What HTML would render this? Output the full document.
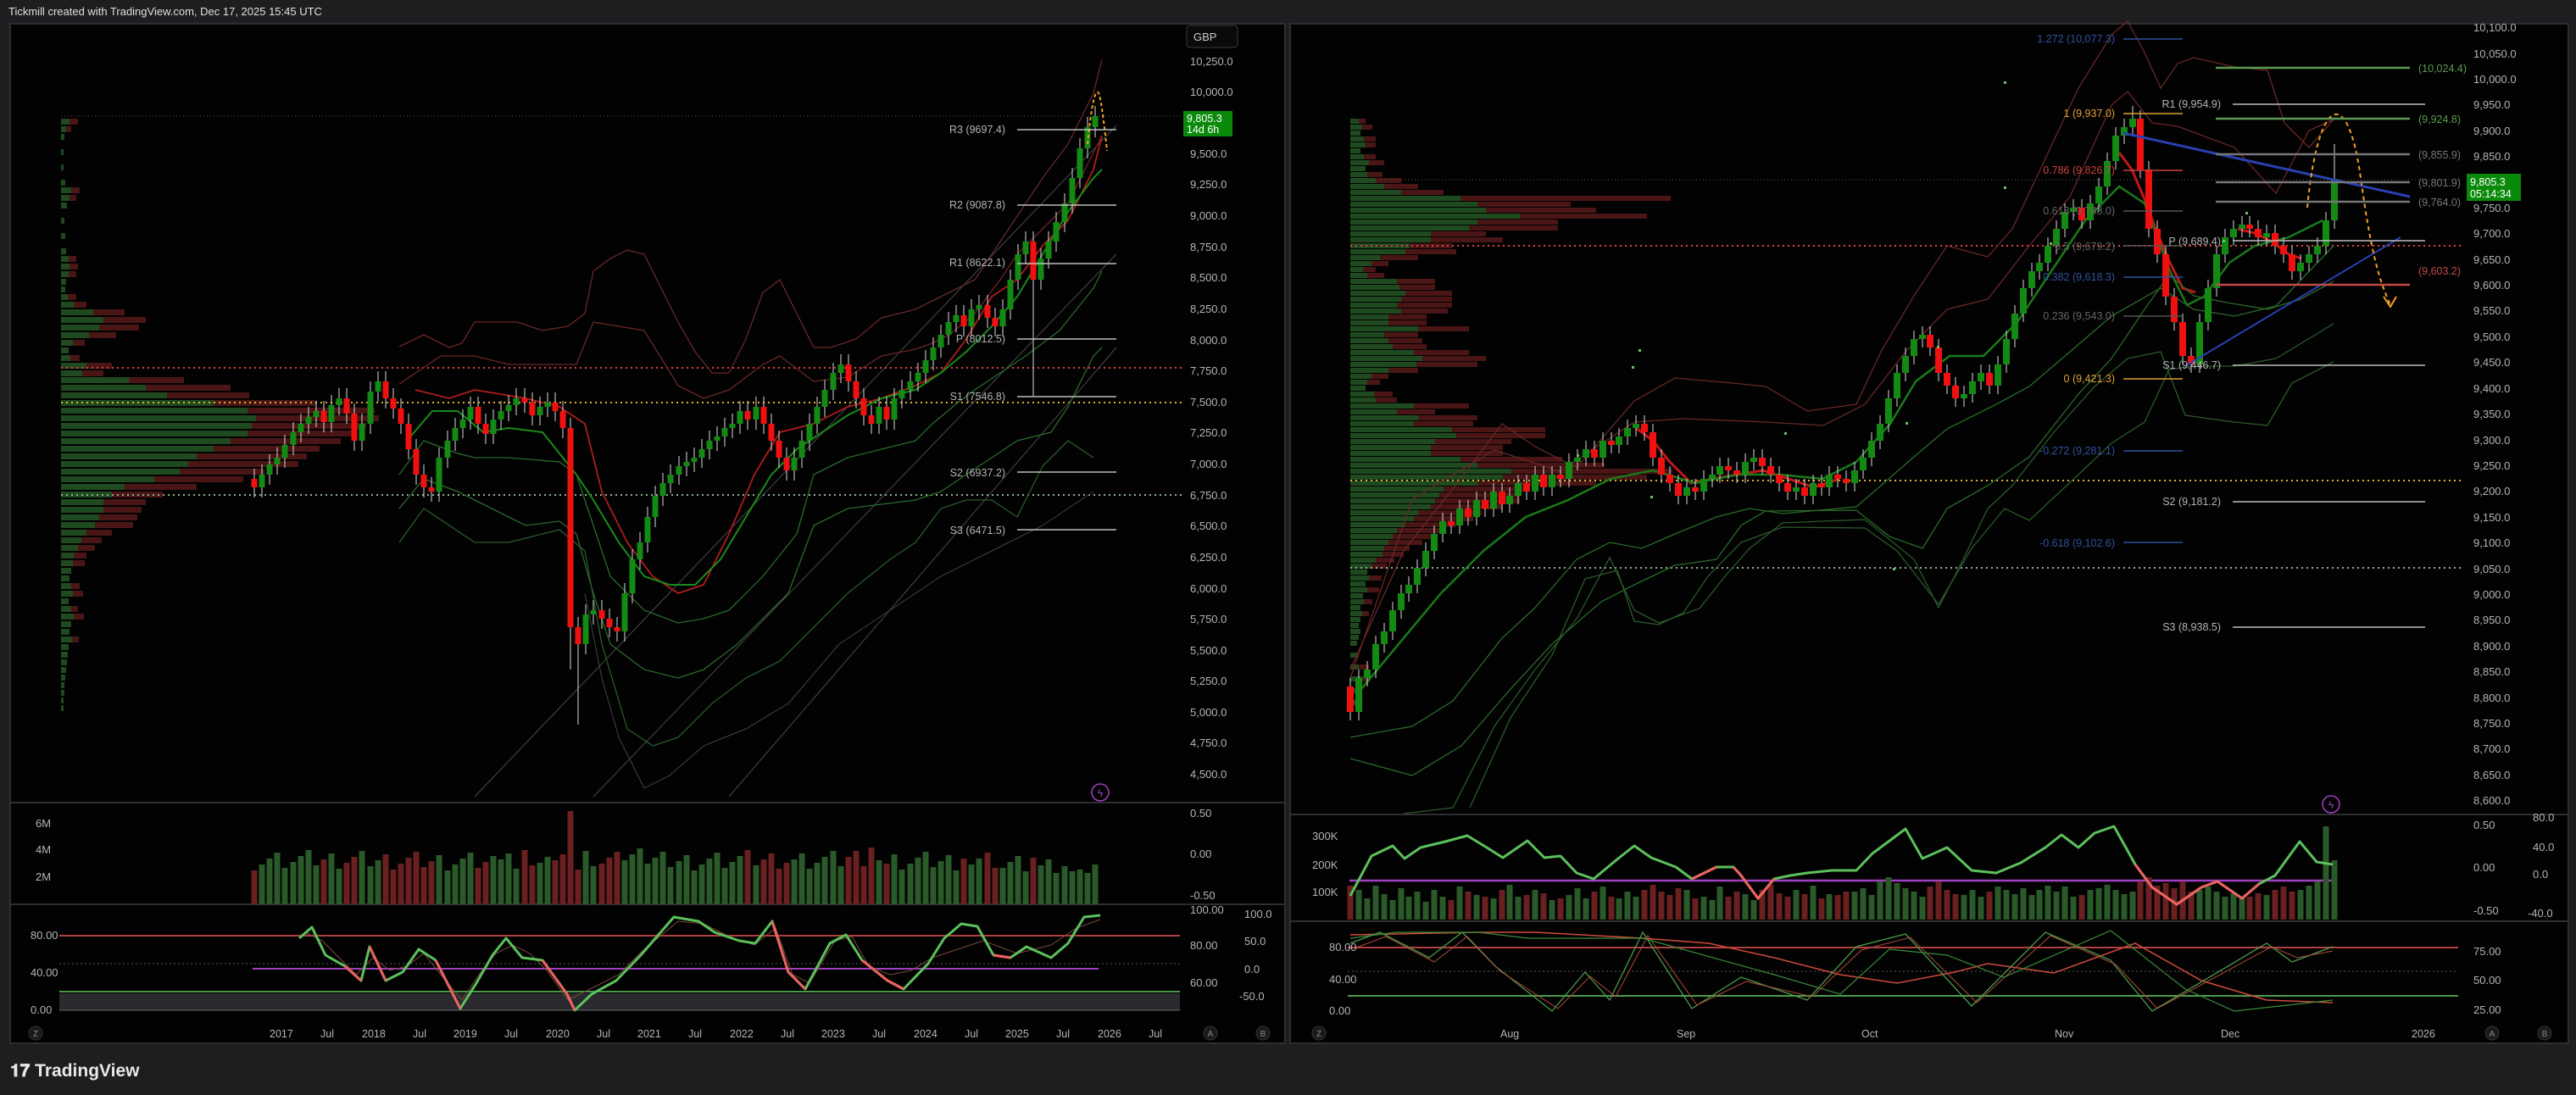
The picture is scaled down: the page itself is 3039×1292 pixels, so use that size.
<!DOCTYPE html>
<html><head><meta charset="utf-8"><style>
html,body{margin:0;padding:0;background:#1e1e21;width:3039px;height:1292px;overflow:hidden}
svg{display:block;font-family:"Liberation Sans",sans-serif}
</style></head><body>
<svg width="3039" height="1292" viewBox="0 0 3039 1292" xmlns="http://www.w3.org/2000/svg">
<rect x="0" y="0" width="3039" height="1292" fill="#1e1e21"/>
<rect x="12" y="28" width="1504" height="1203" fill="#020202" stroke="#2e2e32" stroke-width="2"/>
<rect x="1522" y="28" width="1508" height="1203" fill="#020202" stroke="#2e2e32" stroke-width="2"/>
<line x1="12" y1="947" x2="1516" y2="947" stroke="#2e2e32" stroke-width="2"/>
<line x1="12" y1="1067" x2="1516" y2="1067" stroke="#2e2e32" stroke-width="2"/>
<line x1="1522" y1="961" x2="3030" y2="961" stroke="#2e2e32" stroke-width="2"/>
<line x1="1522" y1="1087" x2="3030" y2="1087" stroke="#2e2e32" stroke-width="2"/>

<!-- ========== LEFT volume profile ========== -->
<g fill="#1f4a1f">
<rect x="72" y="140" width="10" height="7"/><rect x="72" y="149" width="6" height="7"/><rect x="72" y="158" width="4" height="7"/><rect x="72" y="176" width="3" height="7"/><rect x="72" y="194" width="3" height="7"/><rect x="72" y="212" width="5" height="7"/><rect x="72" y="221" width="12" height="7"/><rect x="72" y="230" width="10" height="7"/><rect x="72" y="239" width="7" height="7"/><rect x="72" y="257" width="4" height="7"/><rect x="72" y="275" width="5" height="7"/><rect x="72" y="293" width="6" height="7"/><rect x="72" y="302" width="9" height="7"/><rect x="72" y="311" width="10" height="7"/><rect x="72" y="320" width="9" height="7"/><rect x="72" y="329" width="6" height="7"/><rect x="72" y="338" width="5" height="7"/><rect x="72" y="347" width="8" height="7"/><rect x="72" y="356" width="15" height="7"/><rect x="72" y="365" width="38" height="7"/><rect x="72" y="374" width="50" height="7"/><rect x="72" y="383" width="45" height="7"/><rect x="72" y="392" width="33" height="7"/><rect x="72" y="401" width="14" height="7"/><rect x="72" y="410" width="9" height="7"/><rect x="72" y="419" width="11" height="7"/><rect x="72" y="428" width="30" height="7"/><rect x="72" y="437" width="25" height="7"/><rect x="72" y="445" width="80" height="7"/><rect x="72" y="454" width="100" height="7"/><rect x="72" y="463" width="125" height="7"/><rect x="72" y="472" width="180" height="7"/><rect x="72" y="481" width="220" height="7"/><rect x="72" y="490" width="230" height="7"/><rect x="72" y="499" width="225" height="7"/><rect x="72" y="508" width="220" height="7"/><rect x="72" y="517" width="200" height="7"/><rect x="72" y="526" width="180" height="7"/><rect x="72" y="535" width="160" height="7"/><rect x="72" y="544" width="150" height="7"/><rect x="72" y="553" width="140" height="7"/><rect x="72" y="562" width="110" height="7"/><rect x="72" y="571" width="75" height="7"/><rect x="72" y="580" width="60" height="7"/><rect x="72" y="589" width="50" height="7"/><rect x="72" y="598" width="50" height="7"/><rect x="72" y="607" width="45" height="7"/><rect x="72" y="616" width="40" height="7"/><rect x="72" y="625" width="30" height="7"/><rect x="72" y="634" width="24" height="7"/><rect x="72" y="643" width="20" height="7"/><rect x="72" y="652" width="15" height="7"/><rect x="72" y="661" width="14" height="7"/><rect x="72" y="670" width="12" height="7"/><rect x="72" y="679" width="10" height="7"/><rect x="72" y="688" width="12" height="7"/><rect x="72" y="697" width="14" height="7"/><rect x="72" y="706" width="9" height="7"/><rect x="72" y="715" width="12" height="7"/><rect x="72" y="724" width="15" height="7"/><rect x="72" y="733" width="12" height="7"/><rect x="72" y="742" width="10" height="7"/><rect x="72" y="751" width="13" height="7"/><rect x="72" y="760" width="9" height="7"/><rect x="72" y="769" width="8" height="7"/><rect x="72" y="778" width="7" height="7"/><rect x="72" y="787" width="6" height="7"/><rect x="72" y="796" width="5" height="7"/><rect x="72" y="805" width="4" height="7"/><rect x="72" y="814" width="4" height="7"/><rect x="72" y="823" width="3" height="7"/><rect x="72" y="832" width="3" height="7"/>
</g>
<g fill="#4a1515">
<rect x="82" y="140" width="10" height="7"/><rect x="78" y="149" width="6" height="7"/><rect x="84" y="221" width="10" height="7"/><rect x="82" y="230" width="8" height="7"/><rect x="81" y="302" width="9" height="7"/><rect x="82" y="311" width="10" height="7"/><rect x="81" y="320" width="9" height="7"/><rect x="80" y="347" width="10" height="7"/><rect x="87" y="356" width="15" height="7"/><rect x="110" y="365" width="37" height="7"/><rect x="122" y="374" width="50" height="7"/><rect x="117" y="383" width="47" height="7"/><rect x="105" y="392" width="32" height="7"/><rect x="86" y="401" width="14" height="7"/><rect x="83" y="419" width="11" height="7"/><rect x="102" y="428" width="30" height="7"/><rect x="97" y="437" width="25" height="7"/><rect x="152" y="445" width="65" height="7"/><rect x="172" y="454" width="100" height="7"/><rect x="197" y="463" width="97" height="7"/><rect x="252" y="472" width="120" height="7"/><rect x="292" y="481" width="150" height="7"/><rect x="302" y="490" width="145" height="7"/><rect x="297" y="499" width="135" height="7"/><rect x="292" y="508" width="125" height="7"/><rect x="272" y="517" width="130" height="7"/><rect x="252" y="526" width="125" height="7"/><rect x="232" y="535" width="130" height="7"/><rect x="222" y="544" width="130" height="7"/><rect x="212" y="553" width="100" height="7"/><rect x="182" y="562" width="105" height="7"/><rect x="147" y="571" width="85" height="7"/><rect x="132" y="580" width="60" height="7"/><rect x="122" y="589" width="50" height="7"/><rect x="122" y="598" width="45" height="7"/><rect x="117" y="607" width="45" height="7"/><rect x="112" y="616" width="45" height="7"/><rect x="102" y="625" width="30" height="7"/><rect x="96" y="634" width="24" height="7"/><rect x="92" y="643" width="20" height="7"/><rect x="87" y="652" width="15" height="7"/><rect x="86" y="661" width="14" height="7"/><rect x="84" y="688" width="10" height="7"/><rect x="86" y="697" width="12" height="7"/><rect x="84" y="715" width="8" height="7"/><rect x="87" y="724" width="12" height="7"/><rect x="85" y="751" width="8" height="7"/>
</g>
<!-- left dotted lines -->
<line x1="72" y1="434" x2="1395" y2="434" stroke="#e04040" stroke-width="2" stroke-dasharray="2 4"/>
<line x1="72" y1="475" x2="1395" y2="475" stroke="#e0b030" stroke-width="2" stroke-dasharray="2 4"/>
<line x1="72" y1="584" x2="1395" y2="584" stroke="#90b090" stroke-width="2" stroke-dasharray="2 4"/>
<line x1="72" y1="137" x2="1395" y2="137" stroke="#555" stroke-width="1" stroke-dasharray="1 3"/>
<!-- left trend lines -->
<g stroke="#4a4a4a" stroke-width="1"><line x1="560" y1="940" x2="1317" y2="148"/><line x1="700" y1="940" x2="1317" y2="300"/><line x1="860" y1="940" x2="1317" y2="410"/></g>
<!-- left bands -->
<g fill="none">
<polyline stroke="#6a2626" stroke-width="1.3" points="471,409 500,395 530,410 545,405 560,380 610,380 625,385 640,390 670,385 690,370 700,320 720,305 740,295 760,300 780,340 800,380 820,415 840,440 860,440 880,400 900,345 920,330 940,370 960,410 980,410 1010,400 1040,375 1080,365 1110,350 1130,340 1150,330 1170,300 1200,255 1230,210 1260,170 1290,110 1300,70"/>
<polyline stroke="#6a2626" stroke-width="1.3" points="471,453 520,420 560,420 600,430 680,430 700,380 760,390 800,455 830,470 860,460 900,430 920,420 960,450 1000,445 1040,420 1080,412 1100,405 1120,395 1150,370 1180,330 1200,300 1230,270 1260,240 1290,180 1300,160"/>
<polyline stroke="#b01c1c" stroke-width="1.8" points="490,460 530,470 560,460 620,470 660,480 690,500 710,580 740,640 770,680 800,700 830,690 860,630 890,560 920,510 960,500 1000,480 1040,470 1080,455 1110,440 1140,400 1170,350 1200,330 1230,290 1260,260 1290,200 1300,160"/>
<polyline stroke="#1a8a1a" stroke-width="2" points="480,520 510,485 540,485 570,510 600,505 640,510 680,560 700,590 730,640 760,680 790,690 820,690 850,660 880,610 910,560 940,530 970,510 1000,490 1040,470 1080,460 1110,440 1140,415 1170,385 1200,350 1230,300 1260,250 1290,210 1300,200"/>
<polyline stroke="#2a6a2a" stroke-width="1.3" points="471,560 500,520 540,535 560,540 600,540 660,545 680,560 700,620 720,680 760,720 800,735 830,730 860,720 900,680 940,630 960,560 1000,540 1040,530 1080,520 1100,500 1130,475 1150,460 1180,440 1210,420 1250,390 1290,340 1300,320"/>
<polyline stroke="#2a6a2a" stroke-width="1.3" points="471,600 500,565 540,580 580,600 620,620 660,615 680,630 700,700 720,760 760,790 800,800 830,790 870,760 900,730 930,700 960,620 1000,600 1040,595 1080,590 1110,580 1140,560 1170,540 1200,520 1240,510 1260,480 1290,420 1300,410"/>
<polyline stroke="#2a5a2a" stroke-width="1.3" points="471,640 500,600 560,640 600,640 660,625 690,650 710,760 740,860 770,880 800,870 840,830 880,800 920,780 960,740 1000,700 1050,660 1080,640 1110,600 1140,590 1170,590 1200,610 1230,550 1260,520 1290,540"/>
<polyline stroke="#444" stroke-width="1" points="690,700 710,800 730,870 760,930 790,915 830,880 880,860 930,830 990,760 1050,720 1110,680 1170,650 1230,620 1290,580"/>
</g>
<!-- left wicks -->
<path stroke="#d8d8d8" stroke-width="1" fill="none" d="M300 553V587M309 548V587M318 536V572M327 528V560M336 513V552M346 498V537M355 488V522M364 480V512M373 473V504M382 473V510M391 466V510M400 458V490M409 458V500M418 476V532M427 488V532M437 450V512M446 438V474M455 438V482M464 458V494M473 470V512M482 488V542M491 518V572M500 548V587M509 563V592M518 528V592M528 508V552M537 493V532M546 483V517M555 468V507M564 468V512M573 488V524M582 483V524M591 473V507M600 466V497M609 458V490M619 458V487M628 463V502M637 468V502M646 463V492M655 463V497M664 473V517M673 493V790M682 728V855M691 713V772M700 708V737M710 708V742M719 718V752M728 728V757M737 688V757M746 648V712M755 628V672M764 598V652M773 573V622M782 558V597M791 548V582M801 538V572M810 533V562M819 528V557M828 518V552M837 508V542M846 503V532M855 493V527M864 488V517M873 473V512M882 473V507M892 468V507M901 468V512M910 488V532M919 508V552M928 528V567M937 528V567M946 508V552M955 488V532M964 468V512M973 448V492M983 428V472M992 418V452M1001 418V462M1010 438V482M1019 458V502M1028 478V512M1037 468V512M1046 468V507M1055 458V507M1064 448V482M1074 438V472M1083 428V462M1092 413V452M1101 398V437M1110 383V422M1119 368V407M1128 360V392M1137 360V397M1146 353V397M1155 348V377M1165 348V387M1174 363V397M1183 353V397M1192 318V377M1201 288V342M1210 273V312M1219 273V467M1228 293V342M1237 273V317M1246 250V297M1256 228V274M1265 198V252M1274 163V222M1283 138V187M1292 125V162"/>
<!-- left green bodies -->
<path fill="#138a13" d="M305.5 560h7v15h-7zM314.5 548h7v12h-7zM323.5 540h7v8h-7zM332.5 525h7v15h-7zM342.5 510h7v15h-7zM351.5 500h7v10h-7zM360.5 492h7v8h-7zM369.5 485h7v7h-7zM387.5 478h7v20h-7zM396.5 470h7v8h-7zM423.5 500h7v20h-7zM433.5 462h7v38h-7zM442.5 450h7v12h-7zM514.5 540h7v40h-7zM524.5 520h7v20h-7zM533.5 505h7v15h-7zM542.5 495h7v10h-7zM551.5 480h7v15h-7zM578.5 495h7v17h-7zM587.5 485h7v10h-7zM596.5 478h7v7h-7zM605.5 470h7v8h-7zM633.5 480h7v10h-7zM642.5 475h7v5h-7zM687.5 725h7v35h-7zM696.5 720h7v5h-7zM733.5 700h7v45h-7zM742.5 660h7v40h-7zM751.5 640h7v20h-7zM760.5 610h7v30h-7zM769.5 585h7v25h-7zM778.5 570h7v15h-7zM787.5 560h7v10h-7zM797.5 550h7v10h-7zM806.5 545h7v5h-7zM815.5 540h7v5h-7zM824.5 530h7v10h-7zM833.5 520h7v10h-7zM842.5 515h7v5h-7zM851.5 505h7v10h-7zM860.5 500h7v5h-7zM869.5 485h7v15h-7zM888.5 480h7v15h-7zM933.5 540h7v15h-7zM942.5 520h7v20h-7zM951.5 500h7v20h-7zM960.5 480h7v20h-7zM969.5 460h7v20h-7zM979.5 440h7v20h-7zM988.5 430h7v10h-7zM1033.5 480h7v20h-7zM1051.5 470h7v25h-7zM1060.5 460h7v10h-7zM1070.5 450h7v10h-7zM1079.5 440h7v10h-7zM1088.5 425h7v15h-7zM1097.5 410h7v15h-7zM1106.5 395h7v15h-7zM1115.5 380h7v15h-7zM1124.5 372h7v8h-7zM1142.5 365h7v20h-7zM1151.5 360h7v5h-7zM1179.5 365h7v20h-7zM1188.5 330h7v35h-7zM1197.5 300h7v30h-7zM1206.5 285h7v15h-7zM1224.5 305h7v25h-7zM1233.5 285h7v20h-7zM1242.5 262h7v23h-7zM1252.5 240h7v22h-7zM1261.5 210h7v30h-7zM1270.5 175h7v35h-7zM1279.5 150h7v25h-7zM1288.5 137h7v13h-7z"/>
<path fill="#f01010" d="M296.5 565h7v10h-7zM378.5 485h7v13h-7zM405.5 470h7v18h-7zM414.5 488h7v32h-7zM451.5 450h7v20h-7zM460.5 470h7v12h-7zM469.5 482h7v18h-7zM478.5 500h7v30h-7zM487.5 530h7v30h-7zM496.5 560h7v15h-7zM505.5 575h7v5h-7zM560.5 480h7v20h-7zM569.5 500h7v12h-7zM615.5 470h7v5h-7zM624.5 475h7v15h-7zM651.5 475h7v10h-7zM660.5 485h7v20h-7zM669.5 505h7v235h-7zM678.5 740h7v20h-7zM706.5 720h7v10h-7zM715.5 730h7v10h-7zM724.5 740h7v5h-7zM878.5 485h7v10h-7zM897.5 480h7v20h-7zM906.5 500h7v20h-7zM915.5 520h7v20h-7zM924.5 540h7v15h-7zM997.5 430h7v20h-7zM1006.5 450h7v20h-7zM1015.5 470h7v20h-7zM1024.5 490h7v10h-7zM1042.5 480h7v15h-7zM1133.5 372h7v13h-7zM1161.5 360h7v15h-7zM1170.5 375h7v10h-7zM1215.5 285h7v45h-7z"/>
<path d="M1283 170 C1288 120,1293 100,1297 112 C1301 130,1304 160,1306 178" fill="none" stroke="#f0a020" stroke-width="2" stroke-dasharray="4 3"/>

<!-- left volume -->
<path fill="none" stroke="#2a5a2a" stroke-width="7" d="M309 1067V1020M318 1013V1067M327 1006V1067M336 1024V1067M346 1017V1067M355 1010V1067M364 1003V1067M373 1021V1067M391 1007V1067M400 1025V1067M427 1004V1067M437 1022V1067M446 1015V1067M518 1009V1067M528 1027V1067M537 1020V1067M546 1013V1067M555 1006V1067M582 1010V1067M591 1014V1067M600 1007V1067M609 1025V1067M637 1018V1067M646 1011V1067M691 1004V1067M700 1022V1067M737 1015V1067M746 1008V1067M755 1001V1067M764 1019V1067M773 1012V1067M782 1005V1067M791 1023V1067M801 1016V1067M810 1009V1067M819 1027V1067M828 1020V1067M837 1013V1067M846 1006V1067M855 1024V1067M864 1017V1067M873 1010V1067M892 1021V1067M937 1014V1067M946 1007V1067M955 1025V1067M964 1018V1067M973 1011V1067M983 1004V1067M992 1022V1067M1037 1015V1067M1055 1008V1067M1064 1026V1067M1074 1019V1067M1083 1012V1067M1092 1005V1067M1101 1023V1067M1110 1016V1067M1119 1009V1067M1128 1027V1067M1146 1020V1067M1155 1013V1067M1183 1024V1067M1192 1017V1067M1201 1010V1067M1210 1028V1067M1228 1021V1067M1237 1014V1067M1246 1030V1067M1256 1022V1067M1265 1028V1067M1274 1026V1067M1283 1030V1067M1292 1020V1067"/>
<path fill="none" stroke="#6a2020" stroke-width="7" d="M300 1027V1067M382 1014V1067M409 1018V1067M418 1011V1067M455 1008V1067M464 1026V1067M473 1019V1067M482 1012V1067M491 1005V1067M500 1023V1067M509 1016V1067M564 1024V1067M573 1017V1067M619 1003V1067M628 1021V1067M655 1015V1067M664 1008V1067M673 957V1067M682 1026V1067M710 1019V1067M719 1012V1067M728 1005V1067M882 1003V1067M901 1014V1067M910 1007V1067M919 1025V1067M928 1018V1067M1001 1011V1067M1010 1004V1067M1019 1022V1067M1028 1000V1067M1046 1019V1067M1137 1013V1067M1165 1006V1067M1174 1024V1067M1219 1012V1067"/>

<!-- left osc pane -->
<rect x="70" y="1172" width="1322" height="20" fill="#2a2a2e"/>
<line x1="70" y1="1170" x2="1392" y2="1170" stroke="#4a9a4a" stroke-width="2"/>
<line x1="70" y1="1192" x2="1392" y2="1192" stroke="#666" stroke-width="1"/>
<line x1="70" y1="1104" x2="1392" y2="1104" stroke="#b04040" stroke-width="2"/>
<line x1="70" y1="1137" x2="1392" y2="1137" stroke="#555" stroke-width="1" stroke-dasharray="2 3"/>
<line x1="298" y1="1143" x2="1296" y2="1143" stroke="#a040c0" stroke-width="2"/>
<polyline fill="none" stroke="#7a4a3a" stroke-width="1" points="360,1100 380,1110 400,1130 420,1150 440,1130 460,1145 480,1140 500,1125 520,1150 545,1180 565,1150 585,1125 605,1115 625,1125 645,1145 670,1180 700,1165 730,1150 760,1120 800,1087 830,1090 860,1105 890,1115 915,1095 935,1150 955,1160 985,1110 1005,1105 1025,1140 1050,1150 1075,1145 1100,1130 1130,1120 1160,1110 1200,1125 1240,1115 1270,1095 1298,1085"/>
<polyline fill="none" stroke="#5cc05c" stroke-width="3" stroke-linejoin="round" points="353,1107 368,1094 384,1127 407,1140 426,1157 436,1117 455,1157 475,1147 494,1120 514,1133 543,1190 562,1160 581,1127 597,1107 616,1130 640,1133 669,1173 678,1192 698,1173 727,1157 756,1127 795,1082 824,1087 843,1100 872,1110 891,1113 911,1087 930,1147 950,1167 979,1113 998,1103 1017,1133 1047,1157 1066,1167 1095,1137 1114,1107 1134,1090 1153,1093 1172,1127 1192,1130 1211,1117 1240,1130 1260,1113 1279,1082 1298,1080"/>
<g fill="none" stroke="#f06060" stroke-width="3"><polyline points="407,1140 426,1157"/><polyline points="436,1117 455,1157"/><polyline points="514,1133 543,1190"/><polyline points="640,1133 669,1173 678,1192"/><polyline points="911,1087 930,1147 950,1167"/><polyline points="1017,1133 1047,1157 1066,1167"/><polyline points="1172,1127 1192,1130"/></g>

<!-- ========== RIGHT volume profile ========== -->
<g fill="#1f4a1f">
<rect x="1593" y="140" width="10" height="6"/><rect x="1593" y="147" width="14" height="6"/><rect x="1593" y="154" width="12" height="6"/><rect x="1593" y="161" width="16" height="6"/><rect x="1593" y="168" width="18" height="6"/><rect x="1593" y="175" width="12" height="6"/><rect x="1593" y="182" width="16" height="6"/><rect x="1593" y="189" width="22" height="6"/><rect x="1593" y="196" width="18" height="6"/><rect x="1593" y="203" width="20" height="6"/><rect x="1593" y="210" width="30" height="6"/><rect x="1593" y="217" width="40" height="6"/><rect x="1593" y="224" width="60" height="6"/><rect x="1593" y="231" width="130" height="6"/><rect x="1593" y="238" width="150" height="6"/><rect x="1593" y="245" width="160" height="6"/><rect x="1593" y="252" width="200" height="6"/><rect x="1593" y="259" width="150" height="6"/><rect x="1593" y="266" width="140" height="6"/><rect x="1593" y="273" width="95" height="6"/><rect x="1593" y="280" width="95" height="6"/><rect x="1593" y="287" width="70" height="6"/><rect x="1593" y="294" width="65" height="6"/><rect x="1593" y="301" width="35" height="6"/><rect x="1593" y="308" width="25" height="6"/><rect x="1593" y="315" width="15" height="6"/><rect x="1593" y="322" width="20" height="6"/><rect x="1593" y="329" width="55" height="6"/><rect x="1593" y="336" width="58" height="6"/><rect x="1593" y="343" width="65" height="6"/><rect x="1593" y="350" width="60" height="6"/><rect x="1593" y="357" width="55" height="6"/><rect x="1593" y="364" width="60" height="6"/><rect x="1593" y="371" width="45" height="6"/><rect x="1593" y="378" width="45" height="6"/><rect x="1593" y="385" width="80" height="6"/><rect x="1593" y="392" width="40" height="6"/><rect x="1593" y="399" width="45" height="6"/><rect x="1593" y="406" width="50" height="6"/><rect x="1593" y="413" width="75" height="6"/><rect x="1593" y="420" width="85" height="6"/><rect x="1593" y="427" width="78" height="6"/><rect x="1593" y="434" width="45" height="6"/><rect x="1593" y="441" width="25" height="6"/><rect x="1593" y="448" width="20" height="6"/><rect x="1593" y="455" width="18" height="6"/><rect x="1593" y="462" width="28" height="6"/><rect x="1593" y="469" width="30" height="6"/><rect x="1593" y="476" width="75" height="6"/><rect x="1593" y="483" width="55" height="6"/><rect x="1593" y="490" width="80" height="6"/><rect x="1593" y="497" width="75" height="6"/><rect x="1593" y="504" width="120" height="6"/><rect x="1593" y="511" width="125" height="6"/><rect x="1593" y="518" width="100" height="6"/><rect x="1593" y="525" width="95" height="6"/><rect x="1593" y="532" width="95" height="6"/><rect x="1593" y="539" width="130" height="6"/><rect x="1593" y="546" width="150" height="6"/><rect x="1593" y="553" width="190" height="6"/><rect x="1593" y="560" width="180" height="6"/><rect x="1593" y="567" width="150" height="6"/><rect x="1593" y="574" width="110" height="6"/><rect x="1593" y="581" width="105" height="6"/><rect x="1593" y="588" width="100" height="6"/><rect x="1593" y="595" width="95" height="6"/><rect x="1593" y="602" width="80" height="6"/><rect x="1593" y="609" width="75" height="6"/><rect x="1593" y="616" width="65" height="6"/><rect x="1593" y="623" width="55" height="6"/><rect x="1593" y="630" width="50" height="6"/><rect x="1593" y="637" width="45" height="6"/><rect x="1593" y="644" width="40" height="6"/><rect x="1593" y="651" width="38" height="6"/><rect x="1593" y="658" width="30" height="6"/><rect x="1593" y="665" width="25" height="6"/><rect x="1593" y="672" width="20" height="6"/><rect x="1593" y="679" width="22" height="6"/><rect x="1593" y="686" width="18" height="6"/><rect x="1593" y="693" width="20" height="6"/><rect x="1593" y="700" width="15" height="6"/><rect x="1593" y="707" width="16" height="6"/><rect x="1593" y="714" width="12" height="6"/><rect x="1593" y="721" width="14" height="6"/><rect x="1593" y="728" width="12" height="6"/><rect x="1593" y="735" width="10" height="6"/><rect x="1593" y="742" width="12" height="6"/><rect x="1593" y="749" width="10" height="6"/><rect x="1593" y="756" width="8" height="6"/><rect x="1593" y="770" width="10" height="6"/><rect x="1593" y="784" width="12" height="6"/><rect x="1593" y="798" width="14" height="6"/><rect x="1593" y="812" width="10" height="6"/><rect x="1593" y="826" width="8" height="6"/>
</g>
<g fill="#4a1515">
<rect x="1603" y="140" width="8" height="6"/><rect x="1607" y="147" width="12" height="6"/><rect x="1609" y="161" width="14" height="6"/><rect x="1611" y="168" width="12" height="6"/><rect x="1609" y="182" width="14" height="6"/><rect x="1615" y="189" width="18" height="6"/><rect x="1613" y="203" width="18" height="6"/><rect x="1623" y="210" width="30" height="6"/><rect x="1633" y="217" width="40" height="6"/><rect x="1653" y="224" width="50" height="6"/><rect x="1723" y="231" width="248" height="6"/><rect x="1743" y="238" width="110" height="6"/><rect x="1753" y="245" width="130" height="6"/><rect x="1793" y="252" width="150" height="6"/><rect x="1743" y="259" width="95" height="6"/><rect x="1733" y="266" width="105" height="6"/><rect x="1688" y="273" width="65" height="6"/><rect x="1688" y="280" width="85" height="6"/><rect x="1663" y="287" width="50" height="6"/><rect x="1658" y="294" width="60" height="6"/><rect x="1628" y="301" width="45" height="6"/><rect x="1618" y="308" width="20" height="6"/><rect x="1608" y="315" width="15" height="6"/><rect x="1613" y="322" width="20" height="6"/><rect x="1648" y="329" width="45" height="6"/><rect x="1651" y="336" width="42" height="6"/><rect x="1658" y="343" width="55" height="6"/><rect x="1653" y="350" width="60" height="6"/><rect x="1648" y="357" width="65" height="6"/><rect x="1653" y="364" width="55" height="6"/><rect x="1638" y="371" width="45" height="6"/><rect x="1638" y="378" width="45" height="6"/><rect x="1673" y="385" width="60" height="6"/><rect x="1633" y="392" width="40" height="6"/><rect x="1638" y="399" width="40" height="6"/><rect x="1643" y="406" width="40" height="6"/><rect x="1668" y="413" width="65" height="6"/><rect x="1678" y="420" width="75" height="6"/><rect x="1671" y="427" width="72" height="6"/><rect x="1638" y="434" width="35" height="6"/><rect x="1618" y="441" width="20" height="6"/><rect x="1613" y="448" width="15" height="6"/><rect x="1621" y="462" width="22" height="6"/><rect x="1623" y="469" width="25" height="6"/><rect x="1668" y="476" width="65" height="6"/><rect x="1648" y="483" width="45" height="6"/><rect x="1673" y="490" width="70" height="6"/><rect x="1668" y="497" width="70" height="6"/><rect x="1713" y="504" width="110" height="6"/><rect x="1718" y="511" width="105" height="6"/><rect x="1693" y="518" width="90" height="6"/><rect x="1688" y="525" width="85" height="6"/><rect x="1688" y="532" width="85" height="6"/><rect x="1723" y="539" width="120" height="6"/><rect x="1743" y="546" width="150" height="6"/><rect x="1783" y="553" width="190" height="6"/><rect x="1773" y="560" width="170" height="6"/><rect x="1743" y="567" width="140" height="6"/><rect x="1703" y="574" width="100" height="6"/><rect x="1698" y="581" width="95" height="6"/><rect x="1693" y="588" width="100" height="6"/><rect x="1688" y="595" width="85" height="6"/><rect x="1673" y="602" width="75" height="6"/><rect x="1668" y="609" width="70" height="6"/><rect x="1658" y="616" width="60" height="6"/><rect x="1648" y="623" width="55" height="6"/><rect x="1643" y="630" width="45" height="6"/><rect x="1638" y="637" width="40" height="6"/><rect x="1633" y="644" width="30" height="6"/><rect x="1631" y="651" width="25" height="6"/><rect x="1623" y="658" width="22" height="6"/><rect x="1618" y="665" width="18" height="6"/><rect x="1615" y="679" width="15" height="6"/><rect x="1613" y="693" width="14" height="6"/><rect x="1609" y="707" width="10" height="6"/><rect x="1607" y="721" width="8" height="6"/><rect x="1603" y="784" width="12" height="6"/><rect x="1607" y="798" width="10" height="6"/>
</g>
<!-- right dotted lines -->
<line x1="1593" y1="290" x2="2905" y2="290" stroke="#e04040" stroke-width="2" stroke-dasharray="2 4"/>
<line x1="1593" y1="567" x2="2905" y2="567" stroke="#e0b030" stroke-width="2" stroke-dasharray="2 4"/>
<line x1="1593" y1="670" x2="2905" y2="670" stroke="#90b090" stroke-width="2" stroke-dasharray="2 4"/>
<line x1="1593" y1="212" x2="2905" y2="212" stroke="#555" stroke-width="1" stroke-dasharray="1 3"/>
<!-- right bands -->
<g fill="none">
<polyline stroke="#6a2626" stroke-width="1.3" points="1593,790 1656,650 1724,564 1772,500 1811,527 1860,552 1928,473 1976,446 2044,452 2083,456 2132,485 2190,477 2219,415 2258,349 2297,290 2345,303 2374,270 2413,187 2452,104 2491,41 2510,25 2530,62 2549,104 2569,75 2588,68 2636,79 2675,83 2695,145 2724,174 2753,141"/>
<polyline stroke="#6a2626" stroke-width="1.3" points="1593,800 1666,589 1763,531 1840,556 1928,498 1986,494 2083,498 2151,502 2200,477 2248,415 2297,365 2345,353 2394,290 2442,232 2491,124 2510,108 2539,145 2569,149 2636,174 2685,228 2724,154 2753,141"/>
<polyline stroke="#c01818" stroke-width="3" points="1930,505 1950,520 1970,545 1995,570 2020,565 2050,560 2080,555 2110,565 2140,575 2170,565"/>
<polyline stroke="#c01818" stroke-width="3" points="2500,180 2515,200 2530,235 2545,275 2560,310 2575,340 2590,345"/>
<polyline stroke="#c01818" stroke-width="3" points="2640,270 2660,275 2680,285 2700,300 2715,305"/>
<polyline stroke="#1a7a1a" stroke-width="2.5" points="1600,820 1650,760 1700,700 1750,650 1800,610 1850,590 1900,565 1950,555 2000,570 2050,560 2100,560 2150,565 2190,545 2230,500 2260,450 2300,420 2340,420 2380,380 2420,320 2460,260 2500,220 2530,240 2560,320 2580,360 2600,350 2630,310 2660,290 2700,280 2740,260"/>
<polyline stroke="#2a6a2a" stroke-width="1.3" points="1593,895 1666,915 1724,880 1782,813 1831,760 1889,710 1928,690 1976,667 2025,660 2054,620 2083,603 2190,602 2229,633 2268,647 2297,600 2345,573 2394,539 2452,465 2491,423 2530,365 2559,324 2588,349 2627,357 2675,365 2714,353 2753,332"/>
<polyline stroke="#2a6a2a" stroke-width="1.3" points="1593,870 1666,857 1714,827 1772,753 1811,717 1860,660 1899,640 1937,647 1976,630 2025,610 2064,600 2103,606 2190,598 2219,573 2258,539 2297,506 2355,477 2394,456 2442,415 2491,373 2549,340 2588,365 2636,373 2685,361 2753,290"/>
<polyline stroke="#2a5a2a" stroke-width="1.3" points="1656,960 1714,953 1763,857 1811,790 1860,730 1899,658 1928,720 1957,735 2005,718 2035,680 2064,647 2103,617 2200,613 2258,660 2287,717 2316,660 2345,600 2374,573 2423,510 2471,456 2510,423 2549,415 2578,490 2636,498 2675,502 2704,452 2753,427"/>
<polyline stroke="#2a5a2a" stroke-width="1.3" points="1734,953 1782,847 1831,773 1870,683 1908,673 1928,733 1957,737 1986,723 2015,680 2054,640 2103,622 2200,623 2238,650 2287,713 2326,647 2365,600 2394,614 2452,560 2491,523 2530,498 2559,436 2588,432 2636,432 2685,423 2753,382"/>
</g>
<!-- right wicks -->
<path stroke="#d8d8d8" stroke-width="1" fill="none" d="M1593 800V850M1603 790V850M1613 780V810M1623 750V800M1633 735V770M1643 710V755M1653 690V730M1662 680V710M1672 660V700M1682 640V680M1692 620V660M1702 605V640M1712 605V630M1722 590V630M1732 590V620M1742 580V620M1752 580V610M1762 570V610M1772 570V605M1781 575V605M1791 560V595M1801 560V590M1811 550V590M1821 550V585M1831 550V585M1841 550V575M1851 535V575M1861 530V555M1871 520V550M1881 520V550M1891 510V550M1901 510V535M1910 505V535M1920 495V525M1930 490V515M1940 490V520M1950 500V550M1960 530V570M1970 550V580M1980 560V595M1990 565V595M2000 565V590M2010 555V590M2020 550V575M2029 540V570M2039 540V565M2049 545V570M2059 535V570M2069 530V555M2079 530V560M2089 540V570M2099 550V580M2109 560V590M2119 565V590M2129 565V595M2139 560V595M2149 560V585M2158 550V585M2168 550V575M2178 555V580M2188 545V580M2198 530V565M2208 510V550M2218 490V530M2228 460V510M2238 430V480M2248 410V450M2258 390V430M2268 385V410M2277 385V420M2287 400V450M2297 430V465M2307 445V480M2317 455V480M2327 440V475M2337 430V460M2347 430V465M2357 420V465M2367 390V440M2377 360V410M2387 330V380M2397 310V350M2406 300V330M2416 280V320M2426 260V300M2436 240V280M2446 235V260M2456 235V270M2466 230V270M2476 210V250M2486 180V230M2496 150V200M2506 140V170M2516 125V160M2525 130V210M2535 190V280M2545 260V310M2555 290V360M2565 340V390M2575 370V430M2585 410V440M2595 370V440M2605 330V390M2615 290V350M2625 270V310M2635 260V290M2645 255V280M2654 255V280M2664 260V290M2674 265V290M2684 265V300M2694 280V310M2704 290V330M2714 300V330M2724 290V320M2734 280V310M2744 250V300M2754 170V270"/>
<path fill="#138a13" d="M1599 800h8v40h-8zM1609 790h8v10h-8zM1619 760h8v30h-8zM1629 745h8v15h-8zM1639 720h8v25h-8zM1649 700h8v20h-8zM1658 690h8v10h-8zM1668 670h8v20h-8zM1678 650h8v20h-8zM1688 630h8v20h-8zM1698 615h8v15h-8zM1718 600h8v20h-8zM1738 590h8v20h-8zM1758 580h8v20h-8zM1777 585h8v10h-8zM1787 570h8v15h-8zM1807 560h8v20h-8zM1827 560h8v15h-8zM1847 545h8v20h-8zM1857 540h8v5h-8zM1867 530h8v10h-8zM1887 520h8v20h-8zM1906 515h8v10h-8zM1916 505h8v10h-8zM1926 500h8v5h-8zM1986 575h8v10h-8zM2006 565h8v15h-8zM2016 560h8v5h-8zM2025 550h8v10h-8zM2055 545h8v15h-8zM2065 540h8v5h-8zM2115 575h8v5h-8zM2135 570h8v15h-8zM2154 560h8v15h-8zM2184 555h8v15h-8zM2194 540h8v15h-8zM2204 520h8v20h-8zM2214 500h8v20h-8zM2224 470h8v30h-8zM2234 440h8v30h-8zM2244 420h8v20h-8zM2254 400h8v20h-8zM2264 395h8v5h-8zM2313 465h8v5h-8zM2323 450h8v15h-8zM2333 440h8v10h-8zM2353 430h8v25h-8zM2363 400h8v30h-8zM2373 370h8v30h-8zM2383 340h8v30h-8zM2393 320h8v20h-8zM2402 310h8v10h-8zM2412 290h8v20h-8zM2422 270h8v20h-8zM2432 250h8v20h-8zM2442 245h8v5h-8zM2462 240h8v20h-8zM2472 220h8v20h-8zM2482 190h8v30h-8zM2492 160h8v30h-8zM2502 150h8v10h-8zM2512 140h8v10h-8zM2591 380h8v50h-8zM2601 340h8v40h-8zM2611 300h8v40h-8zM2621 280h8v20h-8zM2631 270h8v10h-8zM2641 265h8v5h-8zM2670 275h8v5h-8zM2710 310h8v10h-8zM2720 300h8v10h-8zM2730 290h8v10h-8zM2740 260h8v30h-8zM2750 211h8v49h-8z"/>
<path fill="#f01010" d="M1589 810h8v30h-8zM1708 615h8v5h-8zM1728 600h8v10h-8zM1748 590h8v10h-8zM1768 580h8v15h-8zM1797 570h8v10h-8zM1817 560h8v15h-8zM1837 560h8v5h-8zM1877 530h8v10h-8zM1897 520h8v5h-8zM1936 500h8v10h-8zM1946 510h8v30h-8zM1956 540h8v20h-8zM1966 560h8v10h-8zM1976 570h8v15h-8zM1996 575h8v5h-8zM2035 550h8v5h-8zM2045 555h8v5h-8zM2075 540h8v10h-8zM2085 550h8v10h-8zM2095 560h8v10h-8zM2105 570h8v10h-8zM2125 575h8v10h-8zM2145 570h8v5h-8zM2164 560h8v5h-8zM2174 565h8v5h-8zM2273 395h8v15h-8zM2283 410h8v30h-8zM2293 440h8v15h-8zM2303 455h8v15h-8zM2343 440h8v15h-8zM2452 245h8v15h-8zM2521 140h8v60h-8zM2531 200h8v70h-8zM2541 270h8v30h-8zM2551 300h8v50h-8zM2561 350h8v30h-8zM2571 380h8v40h-8zM2581 420h8v10h-8zM2650 265h8v5h-8zM2660 270h8v10h-8zM2680 275h8v15h-8zM2690 290h8v10h-8zM2700 300h8v20h-8z"/>
<!-- right trend lines & arcs -->
<line x1="2505" y1="157" x2="2843" y2="232" stroke="#2a40b0" stroke-width="3"/>
<line x1="2578" y1="432" x2="2832" y2="280" stroke="#2a40b0" stroke-width="2"/>
<path d="M2722 245 C2735 110,2770 100,2785 210 S2812 340,2820 360" fill="none" stroke="#f0a020" stroke-width="2" stroke-dasharray="5 4"/>
<path d="M2812 350 L2820 362 L2827 350" fill="none" stroke="#f0a020" stroke-width="2"/>
<g fill="#6cbf6c"><rect x="2364" y="96" width="3" height="3"/><rect x="2364" y="220" width="3" height="3"/><rect x="2418" y="286" width="3" height="3"/><rect x="2285" y="408" width="3" height="3"/><rect x="2248" y="498" width="3" height="3"/><rect x="2105" y="510" width="3" height="3"/><rect x="1947" y="585" width="3" height="3"/><rect x="1933" y="412" width="3" height="3"/><rect x="1925" y="432" width="3" height="3"/><rect x="1860" y="536" width="3" height="3"/><rect x="2649" y="250" width="3" height="3"/><rect x="2622" y="283" width="3" height="3"/><rect x="2233" y="670" width="3" height="3"/></g>

<!-- right volume / rsi pane -->
<line x1="1592" y1="1039" x2="2752" y2="1039" stroke="#a040c0" stroke-width="2.5"/>
<path fill="none" stroke="#2a5a2a" stroke-width="7" d="M1603 1085V1050M1613 1060V1085M1623 1045V1085M1633 1055V1085M1643 1062V1085M1653 1048V1085M1662 1058V1085M1672 1052V1085M1682 1064V1085M1692 1050V1085M1702 1058V1085M1722 1046V1085M1742 1056V1085M1762 1060V1085M1781 1044V1085M1791 1058V1085M1811 1050V1085M1831 1062V1085M1851 1056V1085M1861 1048V1085M1871 1060V1085M1891 1046V1085M1910 1060V1085M1920 1052V1085M1930 1058V1085M1990 1050V1085M2010 1058V1085M2020 1062V1085M2029 1046V1085M2059 1055V1085M2069 1062V1085M2119 1050V1085M2139 1045V1085M2158 1055V1085M2188 1052V1085M2198 1048V1085M2208 1056V1085M2218 1040V1085M2228 1035V1085M2238 1042V1085M2248 1048V1085M2258 1052V1085M2268 1058V1085M2317 1056V1085M2327 1050V1085M2337 1058V1085M2357 1046V1085M2367 1050V1085M2377 1055V1085M2387 1048V1085M2397 1056V1085M2406 1050V1085M2416 1045V1085M2426 1052V1085M2436 1046V1085M2446 1058V1085M2466 1050V1085M2476 1048V1085M2486 1044V1085M2496 1050V1085M2506 1055V1085M2516 1052V1085M2595 1050V1085M2605 1046V1085M2615 1052V1085M2625 1058V1085M2635 1054V1085M2645 1060V1085M2674 1056V1085M2714 1050V1085M2724 1045V1085M2734 1040V1085M2744 975V1085M2754 1015V1085"/>
<path fill="none" stroke="#6a2020" stroke-width="7" d="M1593 1085V1045M1712 1062V1085M1732 1052V1085M1752 1058V1085M1772 1050V1085M1801 1056V1085M1821 1054V1085M1841 1060V1085M1881 1052V1085M1901 1058V1085M1940 1050V1085M1950 1044V1085M1960 1052V1085M1970 1056V1085M1980 1048V1085M2000 1060V1085M2039 1058V1085M2049 1052V1085M2079 1050V1085M2089 1044V1085M2099 1054V1085M2109 1058V1085M2129 1055V1085M2149 1060V1085M2168 1056V1085M2178 1052V1085M2277 1046V1085M2287 1040V1085M2297 1050V1085M2307 1055V1085M2347 1052V1085M2456 1056V1085M2525 1040V1085M2535 1035V1085M2545 1045V1085M2555 1042V1085M2565 1048V1085M2575 1040V1085M2585 1052V1085M2654 1058V1085M2664 1054V1085M2684 1050V1085M2694 1046V1085M2704 1052V1085"/>
<polyline fill="none" stroke="#5cc05c" stroke-width="3" stroke-linejoin="round" points="1593,1057 1618,1010 1643,998 1657,1013 1676,1000 1705,993 1731,986 1754,1000 1773,1012 1802,992 1822,1012 1841,1010 1860,1030 1880,1037 1909,1013 1928,998 1948,1012 1977,1023 1996,1037 2025,1023 2045,1023 2054,1033 2074,1060 2093,1037 2112,1033 2132,1030 2161,1027 2190,1027 2209,1007 2248,978 2268,1013 2297,1000 2326,1027 2355,1030 2384,1018 2413,1000 2432,985 2452,1000 2471,983 2494,975 2519,1020 2539,1047 2568,1067 2597,1047 2616,1040 2645,1060 2665,1043 2684,1033 2713,993 2733,1017 2752,1020"/>
<g fill="none" stroke="#f06060" stroke-width="3"><polyline points="1996,1037 2025,1023"/><polyline points="2045,1023 2054,1033 2074,1060 2093,1037"/><polyline points="2519,1020 2539,1047 2568,1067 2597,1047 2616,1040 2645,1060 2665,1043"/></g>
<!-- right osc -->
<line x1="1590" y1="1118" x2="2900" y2="1118" stroke="#b04040" stroke-width="2"/>
<line x1="1590" y1="1146" x2="2900" y2="1146" stroke="#555" stroke-width="1" stroke-dasharray="2 3"/>
<line x1="1590" y1="1175" x2="2900" y2="1175" stroke="#4a9a4a" stroke-width="2"/>
<polyline fill="none" stroke="#d04a3a" stroke-width="1.5" points="1593,1103 1744,1100 1812,1100 1938,1107 2016,1113 2093,1130 2171,1150 2238,1160 2306,1147 2345,1137 2423,1148 2519,1113 2597,1157 2674,1180 2752,1183"/>
<polyline fill="none" stroke="#4a9a4a" stroke-width="1.3" points="1593,1113 1628,1100 1686,1130 1725,1100 1764,1140 1831,1193 1870,1147 1899,1180 1938,1100 1996,1190 2054,1153 2132,1180 2190,1117 2248,1102 2326,1187 2413,1100 2490,1133 2539,1193 2674,1113 2704,1135 2752,1117"/>
<polyline fill="none" stroke="#b04a3a" stroke-width="1" points="1600,1118 1635,1105 1692,1135 1731,1105 1770,1146 1838,1190 1876,1152 1906,1176 1944,1104 2002,1186 2060,1158 2138,1176 2196,1121 2254,1106 2332,1183 2419,1104 2496,1138 2545,1190 2680,1117 2710,1130 2752,1122"/>
<polyline fill="none" stroke="#3a8a3a" stroke-width="1.2" points="1593,1107 1647,1100 1744,1100 1802,1107 1938,1107 2093,1150 2171,1173 2229,1120 2297,1127 2364,1153 2490,1098 2578,1167 2636,1193 2752,1180"/>

<!-- ========== TEXT ========== -->
<text x="10" y="18" font-size="13" fill="#e0e0e0">Tickmill created with TradingView.com, Dec 17, 2025 15:45 UTC</text>
<text x="12" y="1270" font-size="21" font-weight="bold" fill="#e8e8e8">𝟏𝟕 TradingView</text>
<rect x="1400" y="30" width="60" height="26" rx="4" fill="#0a0a0a" stroke="#3a3a3e"/>
<text x="1408" y="48" font-size="13" fill="#ccc">GBP</text>
<g font-size="13" fill="#b4b4b4">
<text x="1404" y="77">10,250.0</text><text x="1404" y="113">10,000.0</text>
<text x="1404" y="186">9,500.0</text><text x="1404" y="222">9,250.0</text><text x="1404" y="259">9,000.0</text><text x="1404" y="296">8,750.0</text><text x="1404" y="332">8,500.0</text><text x="1404" y="369">8,250.0</text><text x="1404" y="406">8,000.0</text><text x="1404" y="442">7,750.0</text><text x="1404" y="479">7,500.0</text><text x="1404" y="515">7,250.0</text><text x="1404" y="552">7,000.0</text><text x="1404" y="589">6,750.0</text><text x="1404" y="625">6,500.0</text><text x="1404" y="662">6,250.0</text><text x="1404" y="699">6,000.0</text><text x="1404" y="735">5,750.0</text><text x="1404" y="772">5,500.0</text><text x="1404" y="808">5,250.0</text><text x="1404" y="845">5,000.0</text><text x="1404" y="881">4,750.0</text><text x="1404" y="918">4,500.0</text>
<text x="1404" y="964">0.50</text><text x="1404" y="1012">0.00</text><text x="1404" y="1061">-0.50</text>
<text x="42" y="976">6M</text><text x="42" y="1007">4M</text><text x="42" y="1039">2M</text>
<text x="1404" y="1078">100.00</text><text x="1468" y="1083">100.0</text><text x="1468" y="1115">50.0</text><text x="1404" y="1120">80.00</text><text x="1468" y="1148">0.0</text><text x="1404" y="1164">60.00</text><text x="1462" y="1180">-50.0</text>
<text x="36" y="1108">80.00</text><text x="36" y="1152">40.00</text><text x="36" y="1196">0.00</text>
</g>
<rect x="1396" y="131" width="58" height="30" fill="#0a8a0a"/>
<text x="1400" y="144" font-size="12.5" fill="#fff">9,805.3</text><text x="1400" y="157" font-size="12.5" fill="#fff">14d 6h</text>
<g font-size="12.5" fill="#b4b4b4" text-anchor="end">
<text x="1186" y="157">R3 (9697.4)</text><text x="1186" y="246">R2 (9087.8)</text><text x="1186" y="314">R1 (8622.1)</text><text x="1186" y="404">P (8012.5)</text><text x="1186" y="472">S1 (7546.8)</text><text x="1186" y="562">S2 (6937.2)</text><text x="1186" y="630">S3 (6471.5)</text>
</g>
<g stroke="#bdbdbd" stroke-width="1.5">
<line x1="1200" y1="153" x2="1317" y2="153"/><line x1="1200" y1="242" x2="1317" y2="242"/><line x1="1200" y1="311" x2="1317" y2="311"/><line x1="1200" y1="400" x2="1317" y2="400"/><line x1="1200" y1="468" x2="1317" y2="468"/><line x1="1200" y1="557" x2="1317" y2="557"/><line x1="1200" y1="625" x2="1317" y2="625"/>
</g>
<g font-size="12.5" fill="#b4b4b4">
<text x="318" y="1224">2017</text><text x="378" y="1224">Jul</text><text x="427" y="1224">2018</text><text x="487" y="1224">Jul</text><text x="535" y="1224">2019</text><text x="595" y="1224">Jul</text><text x="644" y="1224">2020</text><text x="704" y="1224">Jul</text><text x="752" y="1224">2021</text><text x="812" y="1224">Jul</text><text x="861" y="1224">2022</text><text x="921" y="1224">Jul</text><text x="969" y="1224">2023</text><text x="1029" y="1224">Jul</text><text x="1078" y="1224">2024</text><text x="1138" y="1224">Jul</text><text x="1186" y="1224">2025</text><text x="1246" y="1224">Jul</text><text x="1295" y="1224">2026</text><text x="1355" y="1224">Jul</text>
<text x="1770" y="1224">Aug</text><text x="1978" y="1224">Sep</text><text x="2196" y="1224">Oct</text><text x="2424" y="1224">Nov</text><text x="2620" y="1224">Dec</text><text x="2845" y="1224">2026</text>
</g>
<g fill="#1a1a1c" stroke="#333"><circle cx="42" cy="1219" r="8"/><circle cx="1428" cy="1219" r="8"/><circle cx="1490" cy="1219" r="8"/><circle cx="1556" cy="1219" r="8"/><circle cx="2940" cy="1219" r="8"/><circle cx="3002" cy="1219" r="8"/></g>
<g font-size="10" fill="#888" text-anchor="middle"><text x="42" y="1223">Z</text><text x="1428" y="1223">A</text><text x="1490" y="1223">B</text><text x="1556" y="1223">Z</text><text x="2940" y="1223">A</text><text x="3002" y="1223">B</text></g>
<g fill="none" stroke="#a040c0" stroke-width="1.5"><circle cx="1298" cy="935" r="10"/><circle cx="2750" cy="949" r="10"/></g>
<g font-size="12" fill="#a040c0" text-anchor="middle"><text x="1298" y="940">ϟ</text><text x="2750" y="954">ϟ</text></g>
<g font-size="13" fill="#b4b4b4">
<text x="2918" y="37">10,100.0</text><text x="2918" y="68">10,050.0</text><text x="2918" y="98">10,000.0</text><text x="2918" y="128">9,950.0</text><text x="2918" y="159">9,900.0</text><text x="2918" y="189">9,850.0</text><text x="2918" y="250">9,750.0</text><text x="2918" y="280">9,700.0</text><text x="2918" y="311">9,650.0</text><text x="2918" y="341">9,600.0</text><text x="2918" y="371">9,550.0</text><text x="2918" y="402">9,500.0</text><text x="2918" y="432">9,450.0</text><text x="2918" y="463">9,400.0</text><text x="2918" y="493">9,350.0</text><text x="2918" y="524">9,300.0</text><text x="2918" y="554">9,250.0</text><text x="2918" y="584">9,200.0</text><text x="2918" y="615">9,150.0</text><text x="2918" y="645">9,100.0</text><text x="2918" y="676">9,050.0</text><text x="2918" y="706">9,000.0</text><text x="2918" y="736">8,950.0</text><text x="2918" y="767">8,900.0</text><text x="2918" y="797">8,850.0</text><text x="2918" y="828">8,800.0</text><text x="2918" y="858">8,750.0</text><text x="2918" y="888">8,700.0</text><text x="2918" y="919">8,650.0</text><text x="2918" y="949">8,600.0</text>
<text x="2918" y="978">0.50</text><text x="2918" y="1028">0.00</text><text x="2918" y="1079">-0.50</text>
<text x="2988" y="969">80.0</text><text x="2988" y="1004">40.0</text><text x="2988" y="1036">0.0</text><text x="2982" y="1082">-40.0</text>
<text x="1548" y="991">300K</text><text x="1548" y="1025">200K</text><text x="1548" y="1057">100K</text>
<text x="1568" y="1122">80.00</text><text x="1568" y="1160">40.00</text><text x="1568" y="1197">0.00</text>
<text x="2918" y="1127">75.00</text><text x="2918" y="1161">50.00</text><text x="2918" y="1196">25.00</text>
</g>
<rect x="2910" y="205" width="64" height="32" fill="#0a8a0a"/>
<text x="2914" y="219" font-size="12.5" fill="#fff">9,805.3</text><text x="2914" y="233" font-size="12.5" fill="#fff">05:14:34</text>
<g font-size="12.5" text-anchor="end">
<text x="2495" y="50" fill="#3050a0">1.272 (10,077.3)</text>
<text x="2495" y="138" fill="#e0a030">1 (9,937.0)</text>
<text x="2495" y="205" fill="#d04040">0.786 (9,826.7)</text>
<text x="2495" y="253" fill="#666">0.618 (9,748.0)</text>
<text x="2495" y="295" fill="#666">0.5 (9,679.2)</text>
<text x="2495" y="331" fill="#3050a0">0.382 (9,618.3)</text>
<text x="2495" y="377" fill="#666">0.236 (9,543.0)</text>
<text x="2495" y="451" fill="#e0a030">0 (9,421.3)</text>
<text x="2495" y="536" fill="#3050a0">-0.272 (9,281.1)</text>
<text x="2495" y="645" fill="#3050a0">-0.618 (9,102.6)</text>
<text x="2620" y="127" fill="#b4b4b4">R1 (9,954.9)</text>
<text x="2620" y="289" fill="#b4b4b4">P (9,689.4)</text>
<text x="2620" y="435" fill="#b4b4b4">S1 (9,446.7)</text>
<text x="2620" y="596" fill="#b4b4b4">S2 (9,181.2)</text>
<text x="2620" y="744" fill="#b4b4b4">S3 (8,938.5)</text>
</g>
<g font-size="12.5">
<text x="2853" y="85" fill="#5a9a50">(10,024.4)</text><text x="2853" y="145" fill="#5a9a50">(9,924.8)</text><text x="2853" y="187" fill="#777">(9,855.9)</text><text x="2853" y="220" fill="#777">(9,801.9)</text><text x="2853" y="243" fill="#777">(9,764.0)</text><text x="2853" y="324" fill="#c04848">(9,603.2)</text>
</g>
<g stroke-width="1.5">
<line x1="2505" y1="46" x2="2575" y2="46" stroke="#3050a0"/><line x1="2505" y1="134" x2="2575" y2="134" stroke="#e0a030"/><line x1="2505" y1="201" x2="2575" y2="201" stroke="#d04040"/><line x1="2505" y1="249" x2="2575" y2="249" stroke="#555"/><line x1="2505" y1="290" x2="2575" y2="290" stroke="#555"/><line x1="2505" y1="327" x2="2575" y2="327" stroke="#3050a0"/><line x1="2505" y1="373" x2="2575" y2="373" stroke="#555"/><line x1="2505" y1="447" x2="2575" y2="447" stroke="#e0a030"/><line x1="2505" y1="532" x2="2575" y2="532" stroke="#3050a0"/><line x1="2505" y1="640" x2="2575" y2="640" stroke="#3050a0"/>
<line x1="2634" y1="123" x2="2861" y2="123" stroke="#bdbdbd"/><line x1="2634" y1="284" x2="2861" y2="284" stroke="#bdbdbd"/><line x1="2634" y1="431" x2="2861" y2="431" stroke="#bdbdbd"/><line x1="2634" y1="592" x2="2861" y2="592" stroke="#bdbdbd"/><line x1="2634" y1="740" x2="2861" y2="740" stroke="#bdbdbd"/>
<line x1="2614" y1="80" x2="2843" y2="80" stroke="#5a9a50" stroke-width="2.5"/><line x1="2614" y1="140" x2="2843" y2="140" stroke="#5a9a50" stroke-width="2.5"/><line x1="2614" y1="182" x2="2843" y2="182" stroke="#777" stroke-width="2.5"/><line x1="2614" y1="215" x2="2843" y2="215" stroke="#777" stroke-width="2.5"/><line x1="2614" y1="238" x2="2843" y2="238" stroke="#777" stroke-width="2.5"/><line x1="2614" y1="336" x2="2843" y2="336" stroke="#c04848" stroke-width="2.5"/>
</g>
</svg>
</body></html>
